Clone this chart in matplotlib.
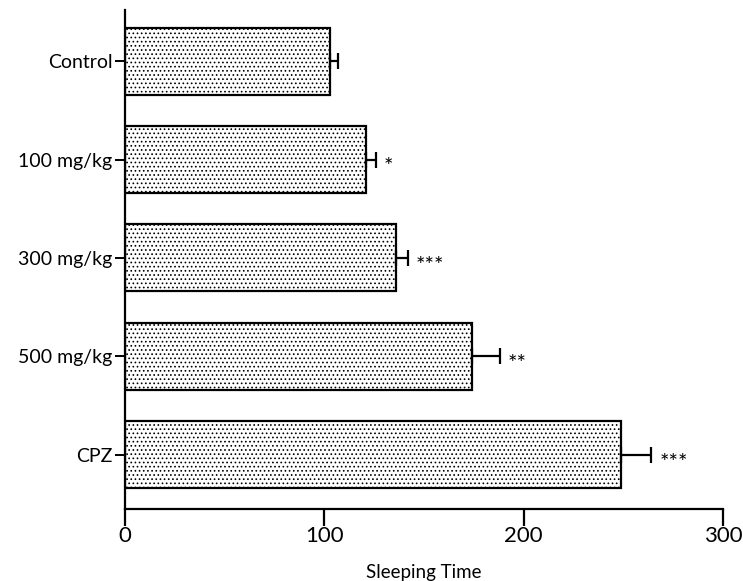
import matplotlib
matplotlib.use("Agg")
import matplotlib.pyplot as plt
import numpy as np

categories = ["Control", "100 mg/kg", "300 mg/kg", "500 mg/kg", "CPZ"]
values = [103, 121, 136, 174, 249]
errors = [4, 5, 6, 14, 15]
stars = ["", "*", "***", "**", "***"]
xticks = [0, 100, 200, 300]
xlabel = "Sleeping Time"

plt.rcParams['font.family'] = ['Lato', 'DejaVu Sans']
plt.rcParams['hatch.linewidth'] = 0.7

fig = plt.figure(figsize=(7.43, 5.81), dpi=100)
ax = fig.add_axes([0.168, 0.124, 0.805, 0.859])

y = np.arange(len(categories))
ax.barh(y, values, height=0.68, color="white", edgecolor="black",
        hatch="....", linewidth=1.6, zorder=2)
ax.errorbar(values, y, xerr=[np.zeros(len(errors)), errors], fmt="none",
            ecolor="black", elinewidth=1.6, capsize=6, capthick=1.6, zorder=3)
for yi, v, e, s in zip(y, values, errors, stars):
    if s:
        ax.text(v + e + 4, yi + 0.08, s, ha="left", va="center", fontsize=16)

ax.set_yticks(y)
ax.set_yticklabels(categories, fontsize=14)
ax.set_xticks(xticks)
ax.set_xticklabels([str(t) for t in xticks], fontsize=16)
ax.set_xlim(0, 300)
ax.set_ylim(4.55, -0.52)
ax.set_xlabel(xlabel, fontsize=13.5, labelpad=13)
for s in ["top", "right"]:
    ax.spines[s].set_visible(False)
for s in ["left", "bottom"]:
    ax.spines[s].set_linewidth(1.6)
ax.tick_params(axis="y", length=7, width=1.4, pad=2)
ax.tick_params(axis="x", length=12, width=1.6, pad=0)

fig.savefig("out.png", dpi=100)
